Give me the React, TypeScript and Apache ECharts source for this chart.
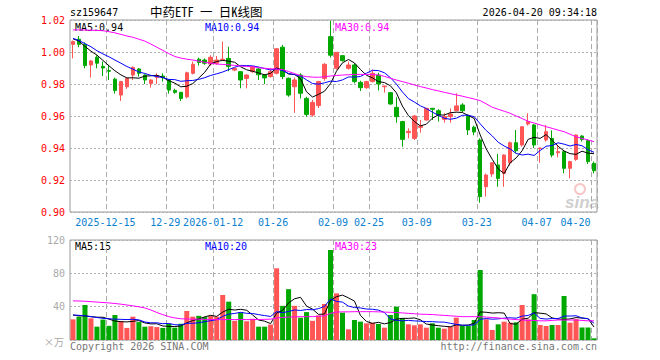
import React, { useEffect, useRef } from 'react';
import * as echarts from 'echarts';

const dates = [
  '2025-12-05','2025-12-08','2025-12-09','2025-12-10','2025-12-11','2025-12-12','2025-12-15','2025-12-16','2025-12-17','2025-12-18','2025-12-19','2025-12-22','2025-12-23','2025-12-24','2025-12-25','2025-12-26','2025-12-29','2025-12-30','2025-12-31',
  '2026-01-05','2026-01-06','2026-01-07','2026-01-08','2026-01-09','2026-01-12','2026-01-13','2026-01-14','2026-01-15','2026-01-16','2026-01-19','2026-01-20','2026-01-21','2026-01-22','2026-01-23','2026-01-26','2026-01-27','2026-01-28','2026-01-29','2026-01-30',
  '2026-02-02','2026-02-03','2026-02-04','2026-02-05','2026-02-06','2026-02-09','2026-02-10','2026-02-11','2026-02-12','2026-02-13','2026-02-24','2026-02-25','2026-02-26','2026-02-27',
  '2026-03-02','2026-03-03','2026-03-04','2026-03-05','2026-03-06','2026-03-09','2026-03-10','2026-03-11','2026-03-12','2026-03-13','2026-03-16','2026-03-17','2026-03-18','2026-03-19','2026-03-20','2026-03-23','2026-03-24','2026-03-25','2026-03-26','2026-03-27','2026-03-30','2026-03-31',
  '2026-04-01','2026-04-02','2026-04-03','2026-04-07','2026-04-08','2026-04-09','2026-04-10','2026-04-13','2026-04-14','2026-04-15','2026-04-16','2026-04-17','2026-04-20'
];

const tickDates = ['2025-12-15','2025-12-29','2026-01-12','2026-01-26','2026-02-09','2026-02-25','2026-03-09','2026-03-23','2026-04-07','2026-04-20'];
const tickLabels = ['2025-12-15','12-29','2026-01-12','01-26','02-09','02-25','03-09','03-23','04-07','04-20'];

const opens = [
  1.0048,1.0080,1.0048,0.9919,0.9967,0.9910,0.9884,0.9830,0.9731,0.9783,
  0.9856,0.9894,0.9856,0.9804,0.9840,0.9850,0.9825,0.9760,0.9748,0.9720,
  0.9867,0.9955,0.9950,0.9925,0.9930,0.9952,0.9960,0.9887,0.9877,0.9835,
  0.9877,0.9894,0.9856,0.9846,0.9867,1.0030,0.9836,0.9783,0.9856,0.9710,
  0.9606,0.9665,0.9835,1.0096,0.9898,0.9977,0.9898,0.9919,0.9810,0.9777,
  0.9815,0.9856,0.9783,0.9746,0.9654,0.9565,0.9496,0.9460,0.9529,0.9575,
  0.9648,0.9633,0.9579,0.9596,0.9633,0.9669,0.9600,0.9530,0.9450,0.9158,
  0.9238,0.9294,0.9242,0.9308,0.9433,0.9419,0.9550,0.9544,0.9396,0.9450,
  0.9460,0.9370,0.9377,0.9273,0.9329,0.9475,0.9446,0.9304
];
const closes = [
  1.0065,1.0048,0.9915,0.9944,0.9930,0.9900,0.9880,0.9760,0.9815,0.9835,
  0.9904,0.9867,0.9825,0.9825,0.9852,0.9840,0.9762,0.9748,0.9710,0.9870,
  0.9923,0.9935,0.9930,0.9967,0.9950,0.9955,0.9910,0.9898,0.9825,0.9856,
  0.9908,0.9858,0.9838,0.9877,1.0020,0.9846,0.9731,0.9825,0.9742,0.9610,
  0.9685,0.9815,0.9923,0.9980,0.9998,0.9946,0.9919,0.9815,0.9777,0.9815,
  0.9867,0.9800,0.9787,0.9675,0.9596,0.9454,0.9504,0.9600,0.9537,0.9648,
  0.9642,0.9606,0.9596,0.9612,0.9663,0.9633,0.9513,0.9500,0.9096,0.9231,
  0.9308,0.9210,0.9356,0.9433,0.9383,0.9533,0.9565,0.9419,0.9400,0.9502,
  0.9356,0.9377,0.9273,0.9315,0.9481,0.9454,0.9315,0.9258
];
const lows = [
  0.9960,1.0030,0.9898,0.9840,0.9898,0.9850,0.9825,0.9740,0.9694,0.9770,
  0.9825,0.9846,0.9800,0.9777,0.9800,0.9815,0.9740,0.9740,0.9694,0.9710,
  0.9860,0.9915,0.9920,0.9915,0.9920,0.9945,0.9880,0.9880,0.9773,0.9773,
  0.9870,0.9825,0.9800,0.9840,0.9860,0.9830,0.9720,0.9620,0.9710,0.9596,
  0.9596,0.9650,0.9820,0.9965,0.9890,0.9940,0.9890,0.9804,0.9756,0.9770,
  0.9810,0.9760,0.9746,0.9670,0.9558,0.9408,0.9460,0.9450,0.9496,0.9570,
  0.9575,0.9565,0.9558,0.9558,0.9630,0.9625,0.9481,0.9480,0.9058,0.9096,
  0.9220,0.9158,0.9158,0.9290,0.9367,0.9408,0.9540,0.9400,0.9308,0.9440,
  0.9342,0.9342,0.9242,0.9210,0.9320,0.9440,0.9300,0.9242
];
const highs = [
  1.0072,1.0100,1.0060,0.9950,0.9980,0.9940,0.9920,0.9840,0.9820,0.9840,
  0.9910,0.9900,0.9860,0.9830,0.9867,0.9867,0.9830,0.9770,0.9750,0.9877,
  0.9940,0.9965,0.9960,0.9980,0.9975,1.0065,1.0033,0.9900,0.9880,0.9860,
  0.9910,0.9900,0.9860,0.9898,1.0025,1.0044,0.9840,0.9840,0.9867,0.9720,
  0.9700,0.9820,0.9930,1.0194,1.0000,0.9980,0.9940,0.9930,0.9820,0.9820,
  0.9890,0.9870,0.9790,0.9750,0.9717,0.9570,0.9523,0.9606,0.9575,0.9650,
  0.9650,0.9642,0.9617,0.9648,0.9742,0.9680,0.9610,0.9540,0.9460,0.9240,
  0.9310,0.9363,0.9360,0.9440,0.9512,0.9533,0.9617,0.9550,0.9402,0.9544,
  0.9510,0.9420,0.9380,0.9320,0.9485,0.9480,0.9454,0.9315
];
const volumes = [
  24.8,28,42,26,16,24.5,17,30,22.5,14.5,
  28,21.5,16,16.5,15.5,14.5,19.5,14.8,19.5,34.8,
  28,29,27.5,29,28,54,46,23,33,22.5,
  25.5,16,16,18.5,86,41,61,41,26.8,33.5,
  23,29.5,43.2,108,56,32.8,12.8,24,22,20,
  20.8,19.2,14.8,30,40,26,18.8,17.6,18.8,14.8,
  20,14.8,13.6,16,26.8,16.8,16.8,24,84,24.8,
  12,18.8,22,20.8,21.2,42,24.8,55,18,16.8,
  18,18,52.8,20.8,25,15,15,2
];
// MA30 lines (they need history before the first candle)
const priceMA30 = [
  1.0138,1.0138,1.0137,1.0136,1.0135,1.0133,1.0127,1.0120,1.0110,1.0100,
  1.0092,1.0080,1.0068,1.0050,1.0030,1.0010,0.9990,0.9972,0.9962,0.9955,
  0.9950,0.9943,0.9936,0.9930,0.9925,0.9922,0.9920,0.9916,0.9912,0.9910,
  0.9908,0.9902,0.9898,0.9895,0.9893,0.9890,0.9878,0.9865,0.9852,0.9846,
  0.9843,0.9842,0.9845,0.9850,0.9853,0.9856,0.9858,0.9860,0.9860,0.9860,
  0.9860,0.9856,0.9848,0.9836,0.9825,0.9815,0.9805,0.9794,0.9784,0.9775,
  0.9765,0.9757,0.9748,0.9740,0.9732,0.9724,0.9715,0.9706,0.9696,0.9676,
  0.9655,0.9642,0.9630,0.9617,0.9600,0.9584,0.9567,0.9556,0.9545,0.9533,
  0.9523,0.9512,0.9502,0.9486,0.9470,0.9460,0.9450,0.9440
];
const volMA30 = [
  47,46.8,46.5,46,45.5,45,44.5,43.8,43,42,
  41,39.8,38.5,36,33,30.5,28,26.5,25.5,25.2,
  25,25,24.8,24.6,24.5,24.5,24.5,24.5,24.5,24.5,
  24.5,24.6,24.8,25,26.5,27,27.5,27.8,28,28,
  28,28.5,29,32,33.5,33.8,33.8,34,34,34,
  34,33.8,33.5,33.2,33,32.5,32,31.5,31,30.8,
  30.5,30,29.5,29,28.5,28,28,28,28,27.5,
  27,26.5,25.5,25,24.5,24,23.5,23.5,23,23,
  23.5,24,24,24,24,23.5,23,23
];
// leading MA values (before enough candles exist)
const priceMA5Lead = [1.0083, 1.0068, 1.0035, 1.0005];
const priceMA10Lead = [1.0085, 1.0072, 1.0052, 1.0033, 1.0008, 0.9988, 0.997, 0.995, 0.993];
const volMA5Lead = [30, 29, 29, 28];
const volMA10Lead = [30, 29.6, 29, 28, 27, 26, 25.5, 25, 24.8];

const priceLegend = ['MA5:0.94', 'MA10:0.94', 'MA30:0.94'];
const volLegend = ['MA5:15', 'MA10:20', 'MA30:23'];
const volTicks = ['120', '80', '40'];

const RED = '#ff5555';
const GREEN = '#00a800';
const MONO = "'DejaVu Sans Mono', monospace";
const CJK_MONO = "'Noto Sans Mono CJK SC', 'Noto Sans CJK SC', monospace";

function movingAvg(vals: number[], n: number, lead: number[]) {
  return vals.map((_, i) => {
    if (i < n - 1) return lead[i];
    let s = 0;
    for (let k = i - n + 1; k <= i; k++) s += vals[k];
    return +(s / n).toFixed(5);
  });
}

function txt(x: number, y: number, text: string, fill: string, font: string, align = 'left') {
  return {
    type: 'text', x, y, silent: true,
    style: { text, fill, font, align, verticalAlign: 'middle', textAlign: align, textVerticalAlign: 'middle' },
  };
}

export default function App() {
  const ref = useRef<HTMLDivElement>(null);
  useEffect(() => {
    const chart = echarts.init(ref.current!, null, { renderer: 'svg' });
    const tickFn = (_i: number, v: string) => tickDates.indexOf(v) >= 0;
    const splitV = { show: true, interval: tickFn, lineStyle: { color: '#aaaaaa', type: [5, 3], width: 1 } };
    const dotted = { show: true, lineStyle: { color: '#b0b0b0', type: [2, 2], width: 1 } };
    const lineS = (name: string, data: number[], color: string, xi: number) => ({
      name, type: 'line', xAxisIndex: xi, yAxisIndex: xi, data, symbol: 'none', showSymbol: false,
      lineStyle: { width: 1, color }, itemStyle: { color }, z: 4, silent: true,
    });
    const option: any = {
      animation: false,
      grid: [
        { left: 70, top: 20, width: 527, height: 192, show: true, borderColor: '#999', borderWidth: 1, backgroundColor: 'transparent' },
        { left: 70, top: 240, width: 527, height: 100, show: true, borderColor: '#999', borderWidth: 1, backgroundColor: 'transparent' },
      ],
      xAxis: [
        {
          type: 'category', gridIndex: 0, data: dates, boundaryGap: true,
          axisLine: { show: false }, axisTick: { show: false },
          axisLabel: {
            interval: tickFn, margin: 5,
            formatter: (v: string) => {
              const k = tickDates.indexOf(v);
              if (k < 0) return '';
              return k === tickDates.length - 1 ? `{e|${tickLabels[k]}}` : `{n|${tickLabels[k]}}`;
            },
            rich: {
              n: { color: '#0a7fd0', fontFamily: MONO, fontSize: 10, padding: [0, 7, 0, 0] },
              e: { color: '#0a7fd0', fontFamily: MONO, fontSize: 10, padding: [0, 37, 0, 0] },
            },
          },
          splitLine: splitV,
        },
        {
          type: 'category', gridIndex: 1, data: dates, boundaryGap: true,
          axisLine: { show: false }, axisTick: { show: false }, axisLabel: { show: false },
          splitLine: splitV,
        },
      ],
      yAxis: [
        {
          type: 'value', gridIndex: 0, min: 0.9, max: 1.02, interval: 0.02, scale: true,
          axisLine: { show: false }, axisTick: { show: false },
          axisLabel: { color: '#ff0000', fontFamily: MONO, fontSize: 10, margin: 5, formatter: (v: number) => v.toFixed(2) },
          splitLine: dotted,
        },
        {
          type: 'value', gridIndex: 1, min: 0, max: 120, interval: 40,
          axisLine: { show: false }, axisTick: { show: false },
          axisLabel: {
            color: '#aaaaaa', fontFamily: MONO, fontSize: 10, margin: 5,
            formatter: (v: number) => (volTicks.indexOf(String(v)) >= 0 ? String(v) : ''),
          },
          splitLine: dotted,
        },
      ],
      series: [
        {
          name: 'K', type: 'candlestick', xAxisIndex: 0, yAxisIndex: 0, barWidth: 4, silent: true,
          data: dates.map((_, i) => [opens[i], closes[i], lows[i], highs[i]]),
          itemStyle: { color: RED, color0: GREEN, borderColor: RED, borderColor0: GREEN, borderWidth: 1 },
          z: 2,
        },
        lineS('MA5', movingAvg(closes, 5, priceMA5Lead), '#000000', 0),
        lineS('MA10', movingAvg(closes, 10, priceMA10Lead), '#0000ff', 0),
        lineS('MA30', priceMA30, '#ff00ff', 0),
        {
          name: 'VOL', type: 'bar', xAxisIndex: 1, yAxisIndex: 1, barWidth: 5, silent: true,
          data: volumes.map((v, i) => ({ value: v, itemStyle: { color: closes[i] >= opens[i] ? RED : GREEN } })),
          z: 2,
        },
        lineS('VMA5', movingAvg(volumes, 5, volMA5Lead), '#000000', 1),
        lineS('VMA10', movingAvg(volumes, 10, volMA10Lead), '#0000ff', 1),
        lineS('VMA30', volMA30, '#ff00ff', 1),
      ],
      graphic: [
        txt(70, 12, 'sz159647', '#000', `10px ${MONO}`),
        txt(150, 11, '中药ETF 一 日K线图', '#000', `12.5px ${CJK_MONO}`),
        txt(597, 12, '2026-04-20 09:34:18', '#000', `10px ${MONO}`, 'right'),
        txt(75, 27, priceLegend[0], '#000000', `10px ${MONO}`),
        txt(205, 27, priceLegend[1], '#0000ff', `10px ${MONO}`),
        txt(335, 27, priceLegend[2], '#ff00ff', `10px ${MONO}`),
        txt(75, 246, volLegend[0], '#000000', `10px ${MONO}`),
        txt(205, 246, volLegend[1], '#0000ff', `10px ${MONO}`),
        txt(335, 246, volLegend[2], '#ff00ff', `10px ${MONO}`),
        txt(64, 341, '×万', '#aaaaaa', "10px 'Noto Sans CJK SC'", 'right'),
        txt(70, 346, 'Copyright 2026 SINA.COM', '#777777', `10px ${MONO}`),
        txt(597, 346, 'http://finance.sina.com.cn', '#777777', `10px ${MONO}`, 'right'),
        { type: 'circle', shape: { cx: 580, cy: 189, r: 5 }, style: { fill: 'none', stroke: 'rgba(235,130,130,0.45)', lineWidth: 2 }, silent: true, z: 1 },
        txt(565, 202, 'sina', '#cfcfcf', "italic bold 17px 'Liberation Sans'"),
      ],
    };
    chart.setOption(option);
    return () => chart.dispose();
  }, []);
  return <div ref={ref} style={{ position: 'absolute', left: 0, top: 0, width: 660, height: 360 }} />;
}
